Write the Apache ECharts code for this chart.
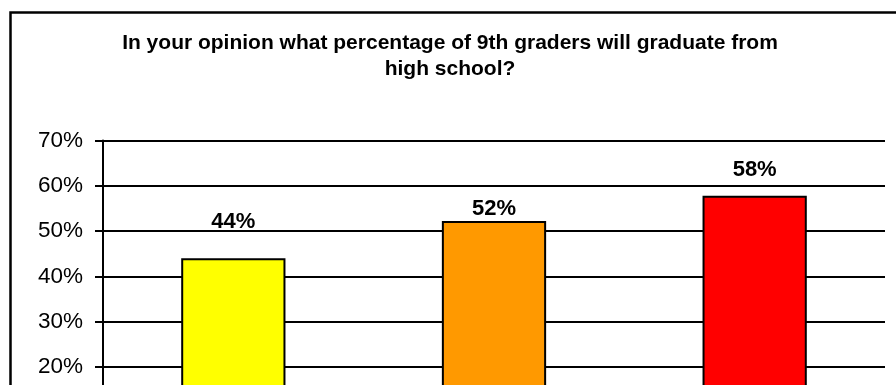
<!DOCTYPE html>
<html>
<head>
<meta charset="utf-8">
<style>
html,body{margin:0;padding:0;background:#fff;}
#c{width:896px;height:385px;}
</style>
<script src="https://cdn.jsdelivr.net/npm/echarts@6/dist/echarts.min.js"></script>
</head>
<body>
<div id="c"></div>
<script>
var titleText = "In your opinion what percentage of 9th graders will graduate from\nhigh school?";
var categories = ["Group A", "Group B", "Group C"];
var values = [44, 52.2, 57.8];
var barColors = ["#FFFF00", "#FF9900", "#FF0000"];
var yTicks = [0, 10, 20, 30, 40, 50, 60, 70];

var labelDistances = [25, 1, 15];

var chart = echarts.init(document.getElementById('c'), null, {renderer: 'canvas'});
chart.setOption({
  animation: false,
  backgroundColor: '#ffffff',
  title: {
    text: titleText,
    left: 450,
    textAlign: 'center',
    top: 30.5,
    padding: 0,
    textStyle: {
      fontFamily: 'Liberation Sans, Arial, sans-serif',
      fontWeight: 'bold',
      fontSize: 21,
      lineHeight: 26,
      color: '#000'
    }
  },
  graphic: [{
    type: 'rect',
    left: 8, top: 10,
    shape: {width: 900, height: 500},
    style: {fill: 'none', stroke: '#000', lineWidth: 2.5},
    silent: true
  }],
  grid: {left: 103, top: 140.5, width: 782, height: 317, outerBoundsMode: 'none', containLabel: false},
  xAxis: {
    type: 'category',
    data: categories,
    axisLine: {lineStyle: {color: '#000', width: 2}},
    axisTick: {show: false},
    axisLabel: {show: false}
  },
  yAxis: {
    type: 'value',
    min: yTicks[0],
    max: yTicks[yTicks.length - 1],
    interval: yTicks[1] - yTicks[0],
    axisLine: {show: true, lineStyle: {color: '#000', width: 2}},
    axisTick: {show: true, length: 8, inside: false, lineStyle: {color: '#000', width: 2}},
    splitLine: {show: true, lineStyle: {color: '#000', width: 2}},
    axisLabel: {
      formatter: '{value}%',
      margin: 20,
      fontFamily: 'Liberation Sans, Arial, sans-serif',
      fontSize: 22.5,
      color: '#000'
    }
  },
  series: [{
    type: 'bar',
    barWidth: '40%',
    data: values.map(function (v, i) {
      return {
        value: v,
        itemStyle: {color: barColors[i], borderColor: '#000', borderWidth: 2},
        label: {distance: labelDistances[i]}
      };
    }),
    label: {
      show: true,
      position: 'top',
      formatter: function (p) { return Math.round(p.value) + '%'; },
      fontFamily: 'Liberation Sans, Arial, sans-serif',
      fontWeight: 'bold',
      fontSize: 22,
      color: '#000'
    }
  }]
});
</script>
</body>
</html>
